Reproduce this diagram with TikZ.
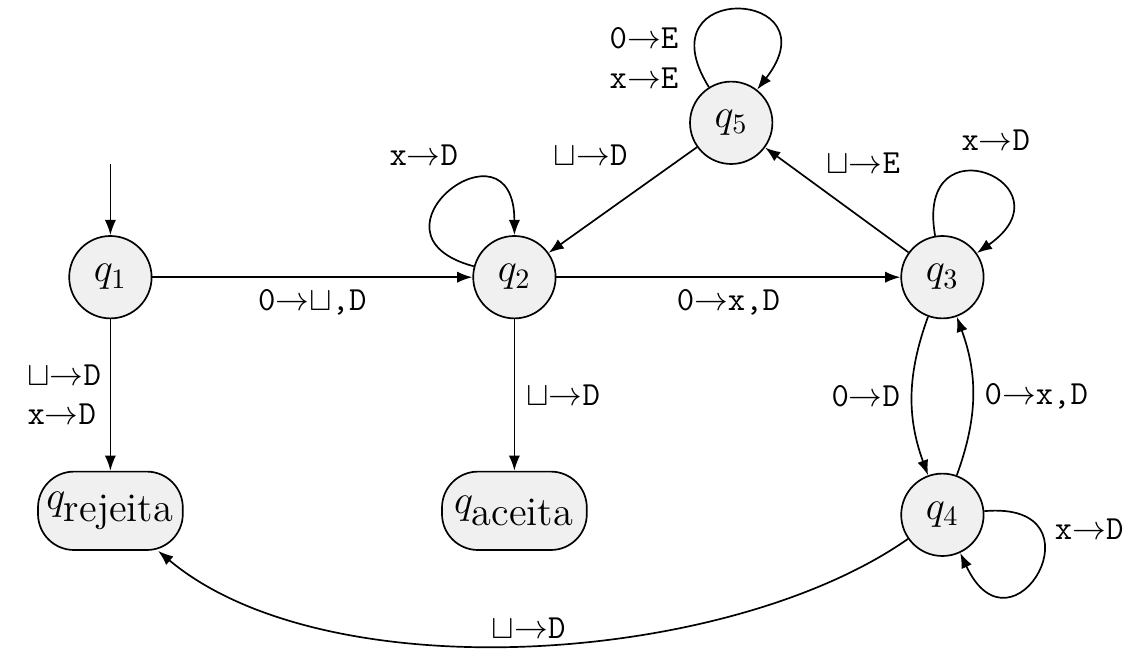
\documentclass[tikz,border=0pt]{standalone}
\usepackage{amsmath, amssymb}
\usetikzlibrary{arrows.meta, positioning}
\newcommand{\trans}[2]{\texttt{#1}$\rightarrow$\texttt{#2}}
\newcommand{\branco}{$\sqcup$}

\begin{document}
\begin{tikzpicture}[
  estado/.style={draw, circle, semithick, fill=gray!12, minimum size=1.03cm, inner sep=0pt, font=\Large},
  final/.style={draw, semithick, fill=gray!12, rounded corners=0.45cm, minimum width=1.81cm, minimum height=0.98cm, inner xsep=1pt, font=\Large},
  fleche/.style={-{Latex[length=1.9mm, width=1.4mm]}, semithick},
  rot/.style={inner sep=2pt, align=left, font=\large}
]
  \useasboundingbox (0,0) rectangle (14.175,8.225);
  \node[estado] (q1) at (1.38,4.76) {$q_1$};
  \node[estado] (q2) at (6.43,4.76) {$q_2$};
  \node[estado] (q3) at (11.78,4.76) {$q_3$};
  \node[estado] (q5) at (9.14,6.69) {$q_5$};
  \node[estado] (q4) at (11.78,1.79) {$q_4$};
  \node[final] (rej) at (1.38,1.84) {$q_{\mbox{rejeita}}$};
  \node[final] (ace) at (6.43,1.84) {$q_{\mbox{aceita}}$};
  \coordinate (ini) at (1.38,6.17);

  \draw[fleche] (ini) -- (q1);
  \draw[fleche] (q1) -- node[rot, below=2pt] {\trans{0}{\branco,D}} (q2);
  \draw[fleche] (q2) -- node[rot, below=2pt] {\trans{0}{x,D}} (q3);
  \draw[fleche] (q1) -- node[rot, left=1pt] {\trans{\branco}{D}\\\trans{x}{D}} (rej);
  \draw[fleche] (q2) -- node[rot, right=2pt] {\trans{\branco}{D}} (ace);
  \draw[fleche] (q5) -- node[rot, above left=10pt and -4pt] {\trans{\branco}{D}} (q2);
  \draw[fleche] (q3) -- node[rot, above right=7pt and -6pt] {\trans{\branco}{E}} (q5);
  \draw[fleche] (q3) to[bend right=20] node[rot, left=2pt] {\trans{0}{D}} (q4);
  \draw[fleche] (q4) to[bend right=20] node[rot, right=2pt] {\trans{0}{x,D}} (q3);
  % lacos
  \draw[fleche] (q2) to[out=165, in=90, distance=1.55cm] node[rot, pos=0.4, above left=12pt and -10pt] {\trans{x}{D}} (q2);
  \draw[fleche] (q5) to[out=122, in=52, distance=1.6cm] node[rot, pos=0.1, left=4pt] {\trans{0}{E}\\\trans{x}{E}} (q5);
  \draw[fleche] (q3) to[out=100, in=35, distance=1.5cm] node[rot, pos=0.4, above right=5pt and -5pt] {\trans{x}{D}} (q3);
  \draw[fleche] (q4) to[out=5, in=-65, distance=1.55cm] node[rot, pos=0.25, right=3pt] {\trans{x}{D}} (q4);
  \draw[fleche] (q4) to[out=215, in=-40, looseness=0.75] node[rot, above] {\trans{\branco}{D}} (rej);
\end{tikzpicture}
\end{document}
